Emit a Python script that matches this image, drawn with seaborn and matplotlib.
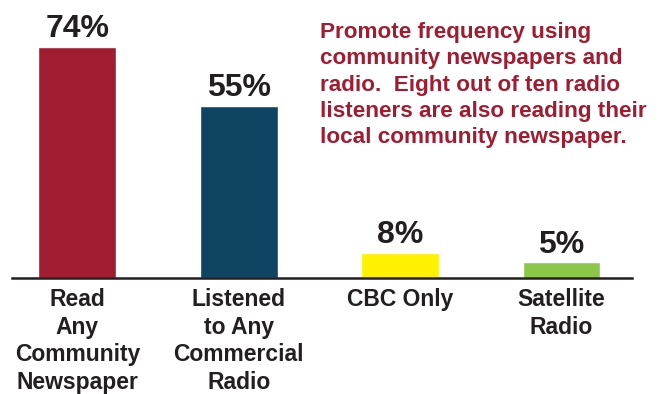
import matplotlib
matplotlib.use("Agg")
import matplotlib.pyplot as plt
import seaborn as sns
import pandas as pd

categories = ["Read\nAny\nCommunity\nNewspaper", "Listened\nto Any\nCommercial\nRadio",
              "CBC Only", "Satellite\nRadio"]
values = [74, 55, 8, 5]
colors = ["#A01D31", "#0F4462", "#FFF100", "#8DC74A"]
note = ("Promote frequency using\ncommunity newspapers and\nradio.  Eight out of ten radio\n"
        "listeners are also reading their\nlocal community newspaper.")

sns.set_theme(style="white")
plt.rcParams['font.family'] = ['Liberation Sans', 'DejaVu Sans']

df = pd.DataFrame({"cat": categories, "val": values})

fig = plt.figure(figsize=(6.6, 3.94), dpi=100)
ax = fig.add_axes([12/660, 116/394, 620/660, 250/394])
sns.barplot(data=df, x="cat", y="val", hue="cat", palette=colors, legend=False,
            width=0.483, ax=ax, saturation=1)
ax.set_xlim(-0.405, 3.437)
ax.set_ylim(0, 80)
for c in ax.containers:
    ax.bar_label(c, labels=[f"{v:.0f}%" for v in c.datavalues], padding=2,
                 fontsize=23, fontweight="bold", color="#231F20")
ax.set_xlabel("")
ax.set_ylabel("")
ax.set_yticks([])
ax.tick_params(axis="x", length=0, pad=7)
for lab in ax.get_xticklabels():
    lab.set_fontsize(16.5)
    lab.set_fontweight("bold")
    lab.set_color("#231F20")
    lab.set_linespacing(1.27)
for s in ["top", "right", "left"]:
    ax.spines[s].set_visible(False)
ax.spines["bottom"].set_color("#231F20")
ax.spines["bottom"].set_linewidth(1.8)

fig.text(320/660, 1 - 22/394, note, ha="left", va="top", fontsize=16.2,
         fontweight="bold", color="#A01D31", linespacing=1.33)

fig.savefig("out.png", dpi=100)
